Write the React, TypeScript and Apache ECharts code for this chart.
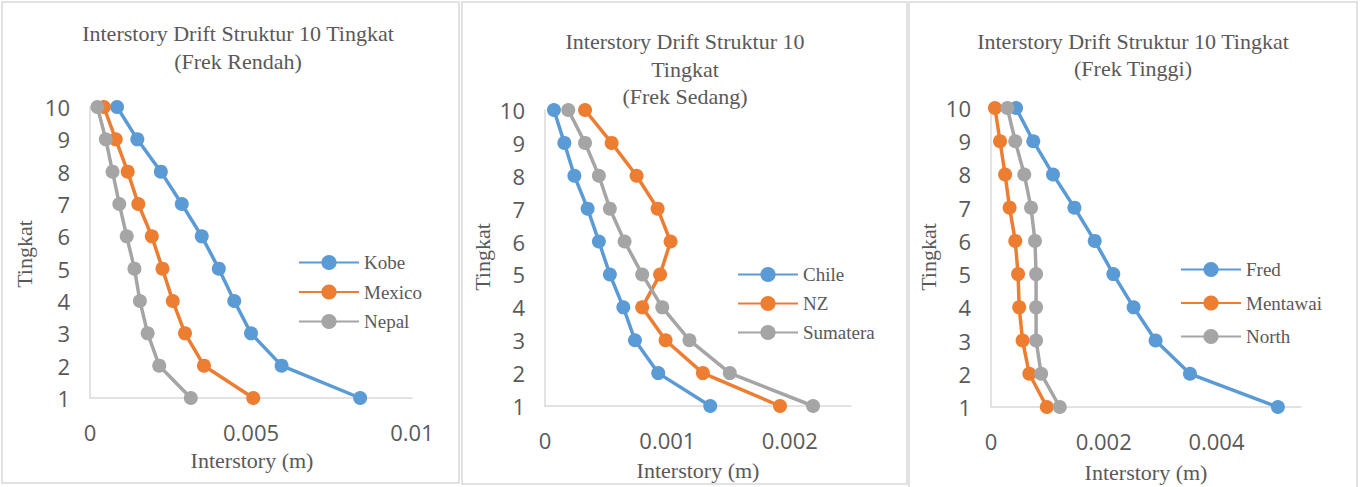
import React, { useEffect, useRef } from "react";
import * as echarts from "echarts";

const levels = [10, 9, 8, 7, 6, 5, 4, 3, 2, 1];

const kobe = [0.00084, 0.00147, 0.0022, 0.00285, 0.00347, 0.004, 0.00448, 0.005, 0.00595, 0.00839];
const mexico = [0.00043, 0.0008, 0.00117, 0.0015, 0.00192, 0.00225, 0.00257, 0.00295, 0.00354, 0.00507];
const nepal = [0.00023, 0.00049, 0.0007, 0.00091, 0.00114, 0.00138, 0.00155, 0.00179, 0.00215, 0.00313];

const chile = [0.000073, 0.000158, 0.00024, 0.000348, 0.00044, 0.00053, 0.00064, 0.000735, 0.000925, 0.00135];
const nz = [0.000327, 0.000544, 0.000748, 0.00092, 0.001026, 0.00094, 0.000794, 0.000985, 0.00129, 0.00192];
const sumatera = [0.00019, 0.000327, 0.00044, 0.00053, 0.00065, 0.000794, 0.000958, 0.00118, 0.00151, 0.00219];

const fred = [0.000445, 0.00075, 0.0011, 0.00148, 0.00184, 0.00217, 0.00253, 0.00292, 0.00353, 0.00509];
const mentawai = [0.00007, 0.00016, 0.00025, 0.00033, 0.00043, 0.00048, 0.0005, 0.00056, 0.00068, 0.00099];
const north = [0.00029, 0.00043, 0.00059, 0.00071, 0.00078, 0.0008, 0.0008, 0.0008, 0.00089, 0.00122];

const panelTitles = [
  "Interstory Drift Struktur 10 Tingkat\n(Frek Rendah)",
  "Interstory Drift Struktur 10\nTingkat\n(Frek Sedang)",
  "Interstory Drift Struktur 10 Tingkat\n(Frek Tinggi)",
];
const panelSeries = [
  [["Kobe", kobe], ["Mexico", mexico], ["Nepal", nepal]],
  [["Chile", chile], ["NZ", nz], ["Sumatera", sumatera]],
  [["Fred", fred], ["Mentawai", mentawai], ["North", north]],
] as [string, number[]][][];
const xMax = [0.01, 0.0025, 0.0055];
const xInterval = [0.005, 0.001, 0.002];
const xAxisName = "Interstory (m)";
const yAxisName = "Tingkat";

const COLORS = ["#5B9BD5", "#ED7D31", "#A5A5A5"];
const TEXT = "#595959";
const LINE = "#D9D9D9";
const SERIF = "'Liberation Serif', 'Times New Roman', serif";
const SANS = "'Open Sans', 'Liberation Sans', sans-serif";

// layout
const grids = [
  { left: 90, top: 107, width: 322, height: 291 },
  { left: 545, top: 110, width: 306, height: 296 },
  { left: 991, top: 108, width: 310, height: 299 },
];
const frames = [
  { x: 2, y: 2, width: 457, height: 481 },
  { x: 462, y: 2, width: 445, height: 482 },
  { x: 909, y: 2, width: 448, height: 492 },
];
const titlePos = [
  { x: 238, y: 19, lh: 28 },
  { x: 685, y: 28, lh: 27.5 },
  { x: 1133, y: 28, lh: 27 },
];
const yNamePos = [
  { x: 24, y: 254 },
  { x: 482, y: 257 },
  { x: 928, y: 257 },
];
const xNamePos = [
  { x: 252, y: 460 },
  { x: 698, y: 470 },
  { x: 1146, y: 472 },
];
const legendPos = [
  { left: 298, top: 253, gap: 10.5 },
  { left: 737, top: 265, gap: 10 },
  { left: 1180, top: 260, gap: 14.5 },
];

export default function App() {
  const ref = useRef<HTMLDivElement>(null);
  useEffect(() => {
    document.body.style.margin = "0";
    if (!ref.current) return;
    const chart = echarts.init(ref.current, null, { renderer: "svg" });

    const series: any[] = [];
    panelSeries.forEach((group, p) => {
      group.forEach(([name, vals], i) => {
        series.push({
          type: "line",
          name,
          xAxisIndex: p,
          yAxisIndex: p,
          data: vals.map((v, k) => [v, levels[k]]),
          symbol: "circle",
          symbolSize: 14,
          lineStyle: { width: 3.5, color: COLORS[i] },
          itemStyle: { color: COLORS[i] },
          color: COLORS[i],
          z: 3 + i,
        });
      });
    });

    const graphic: any[] = [];
    frames.forEach((f) => {
      graphic.push({
        type: "rect",
        shape: { x: f.x, y: f.y, width: f.width, height: f.height },
        style: { fill: "none", stroke: LINE, lineWidth: 1.5 },
        silent: true,
      });
    });
    panelTitles.forEach((t, p) => {
      graphic.push({
        type: "text",
        x: titlePos[p].x,
        y: titlePos[p].y,
        style: {
          text: t,
          fill: TEXT,
          fontFamily: SERIF,
          fontSize: 22,
          lineHeight: titlePos[p].lh,
          align: "center",
          verticalAlign: "top",
        },
      });
      graphic.push({
        type: "text",
        x: yNamePos[p].x,
        y: yNamePos[p].y,
        rotation: Math.PI / 2,
        style: {
          text: yAxisName,
          fill: TEXT,
          fontFamily: SERIF,
          fontSize: 22,
          align: "center",
          verticalAlign: "middle",
        },
      });
      graphic.push({
        type: "text",
        x: xNamePos[p].x,
        y: xNamePos[p].y,
        style: {
          text: xAxisName,
          fill: TEXT,
          fontFamily: SERIF,
          fontSize: 22,
          align: "center",
          verticalAlign: "middle",
        },
      });
    });

    const option: any = {
      animation: false,
      backgroundColor: "#ffffff",
      grid: grids.map((g) => ({ ...g, containLabel: false })),
      xAxis: grids.map((_, p) => ({
        type: "value",
        gridIndex: p,
        min: 0,
        max: xMax[p],
        interval: xInterval[p],
        axisLine: { show: true, onZero: false, lineStyle: { color: LINE, width: 1.5 } },
        axisTick: { show: false },
        splitLine: { show: false },
        axisLabel: {
          color: TEXT,
          fontFamily: SANS,
          fontSize: 22,
          margin: 23,
          showMaxLabel: p === 0,
          formatter: (v: number) => String(parseFloat(v.toPrecision(6))),
        },
      })),
      yAxis: grids.map((_, p) => ({
        type: "value",
        gridIndex: p,
        min: 1,
        max: 10,
        interval: 1,
        axisLine: { show: true, onZero: false, lineStyle: { color: LINE, width: 1.5 } },
        axisTick: { show: false },
        splitLine: { show: false },
        axisLabel: {
          color: TEXT,
          fontFamily: SANS,
          fontSize: 22,
          margin: 20,
        },
      })),
      legend: panelSeries.map((group, p) => ({
        data: group.map(([n]) => n),
        orient: "vertical",
        left: legendPos[p].left,
        top: legendPos[p].top,
        itemGap: legendPos[p].gap,
        itemWidth: 60,
        itemHeight: 19,
        itemStyle: { borderWidth: 0 },
        padding: 0,
        selectedMode: false,
        textStyle: { color: TEXT, fontFamily: SERIF, fontSize: 19 },
      })),
      series,
      graphic,
    };
    chart.setOption(option);
    return () => chart.dispose();
  }, []);
  return <div ref={ref} style={{ width: 1360, height: 487 }} />;
}
